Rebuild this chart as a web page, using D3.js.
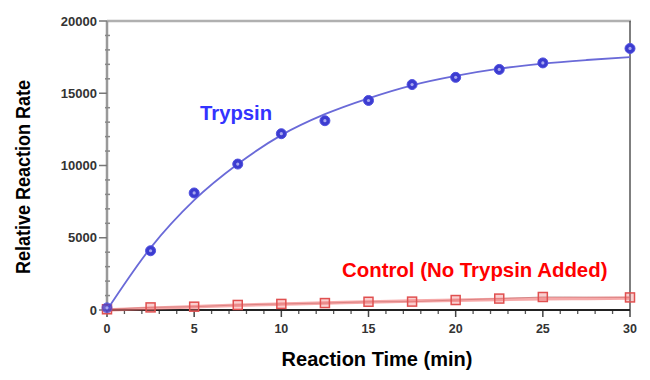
<!DOCTYPE html>
<html>
<head>
<meta charset="utf-8">
<script src="https://cdn.jsdelivr.net/npm/d3@7"></script>
<style>
  body { margin: 0; background: #fff; }
  text { font-family: "Liberation Sans", Arial, sans-serif; font-weight: bold; }
</style>
</head>
<body>
<script>
const width = 650
const height = 380

// measured points
const times = [0, 2.5, 5, 7.5, 10, 12.5, 15, 17.5, 20, 22.5, 25, 30]
const trypsin = [150, 4100, 8100, 10100, 12200, 13100, 14500, 15600, 16100, 16650, 17100, 18100]
const control = [50, 180, 230, 350, 420, 480, 570, 580, 690, 790, 900, 870]

// fitted curves
const fitTimes = [0, 2.5, 5, 7.5, 10, 12.5, 15, 17.5, 20, 22.5, 25, 27.5, 30]
const trypsinFit = [0, 4300, 7600, 10100, 12100, 13550, 14650, 15550, 16200, 16700, 17050, 17300, 17500]
const controlFit = [0, 120, 230, 330, 410, 490, 560, 620, 680, 730, 770, 800, 830]

const xTicks = [0, 5, 10, 15, 20, 25, 30]
const yTicks = [0, 5000, 10000, 15000, 20000]

const x = d3.scaleLinear().domain([0, 30]).range([107, 630])
const y = d3.scaleLinear().domain([0, 20000]).range([310, 21])

const svg = d3.select("body").append("svg")
  .attr("width", width)
  .attr("height", height)

// frame: top (light) and right (dark)
svg.append("line")
  .attr("x1", x(0)).attr("x2", x(30) + 1)
  .attr("y1", y(20000)).attr("y2", y(20000))
  .attr("stroke", "#b0b0b0").attr("stroke-width", 2.5)
svg.append("line")
  .attr("x1", x(30)).attr("x2", x(30))
  .attr("y1", y(20000)).attr("y2", y(0))
  .attr("stroke", "#555").attr("stroke-width", 1.5)

// y axis
const yAxis = svg.append("g").attr("transform", `translate(${x(0)},0)`)
yAxis.append("line")
  .attr("y1", y(20000)).attr("y2", y(0))
  .attr("stroke", "#999").attr("stroke-width", 2.5)
yAxis.selectAll(".minor")
  .data(d3.range(0, 20001, 1000).filter(d => d % 5000 !== 0))
  .enter().append("line")
  .attr("x1", -2).attr("x2", 3)
  .attr("y1", d => y(d)).attr("y2", d => y(d))
  .attr("stroke", "#888").attr("stroke-width", 1.5)
yAxis.selectAll(".major")
  .data(yTicks)
  .enter().append("line")
  .attr("x1", -8).attr("x2", 0)
  .attr("y1", d => y(d)).attr("y2", d => y(d))
  .attr("stroke", "#777").attr("stroke-width", 1.5)
yAxis.selectAll("text")
  .data(yTicks)
  .enter().append("text")
  .attr("x", -10)
  .attr("y", d => y(d) + 4.5)
  .attr("text-anchor", "end")
  .attr("font-size", 13)
  .attr("fill", "#333")
  .text(d => d)

// x axis
const xAxis = svg.append("g").attr("transform", `translate(0,${y(0)})`)
xAxis.selectAll(".minor")
  .data(d3.range(0, 31).filter(d => d % 5 !== 0))
  .enter().append("line")
  .attr("x1", d => x(d)).attr("x2", d => x(d))
  .attr("y1", 0).attr("y2", 4)
  .attr("stroke", "#555").attr("stroke-width", 1.3)
xAxis.selectAll(".major")
  .data(xTicks)
  .enter().append("line")
  .attr("x1", d => x(d)).attr("x2", d => x(d))
  .attr("y1", 0).attr("y2", 7)
  .attr("stroke", "#444").attr("stroke-width", 1.5)
xAxis.append("line")
  .attr("x1", x(0)).attr("x2", x(30))
  .attr("stroke", "#222").attr("stroke-width", 1.8)
xAxis.selectAll("text")
  .data(xTicks)
  .enter().append("text")
  .attr("x", d => x(d))
  .attr("y", 23)
  .attr("text-anchor", "middle")
  .attr("font-size", 12.5)
  .attr("fill", "#333")
  .text(d => d)

// axis titles
svg.append("text")
  .attr("x", 377).attr("y", 366)
  .attr("text-anchor", "middle")
  .attr("font-size", 20)
  .attr("fill", "#000")
  .text("Reaction Time (min)")
svg.append("text")
  .attr("transform", "translate(30,177) rotate(-90)")
  .attr("text-anchor", "middle")
  .attr("font-size", 20)
  .attr("textLength", 194)
  .attr("lengthAdjust", "spacingAndGlyphs")
  .attr("fill", "#000")
  .text("Relative Reaction Rate")

const line = d3.line()
  .x((d, i) => x(fitTimes[i]))
  .y(d => y(d))
  .curve(d3.curveMonotoneX)

// control series
svg.append("path")
  .datum(control)
  .attr("d", d3.line().x((d, i) => x(times[i])).y(d => y(d)))
  .attr("fill", "none")
  .attr("stroke", "#6a2a2a").attr("stroke-width", 1).attr("opacity", 0.45)
svg.append("path")
  .datum(controlFit)
  .attr("d", line)
  .attr("fill", "none")
  .attr("stroke", "#f07070").attr("stroke-width", 3.5).attr("opacity", 0.6)
svg.selectAll(".ctrl")
  .data(control)
  .enter().append("rect")
  .attr("x", (d, i) => x(times[i]) - 4.5)
  .attr("y", d => y(d) - 4.5)
  .attr("width", 9).attr("height", 9)
  .attr("fill", "rgba(240,120,120,0.35)")
  .attr("stroke", "#e05050").attr("stroke-width", 1.5)

// trypsin series
svg.append("path")
  .datum(trypsinFit)
  .attr("d", line)
  .attr("fill", "none")
  .attr("stroke", "#6a6ad8").attr("stroke-width", 1.8)
svg.selectAll(".tryp")
  .data(trypsin)
  .enter().append("circle")
  .attr("cx", (d, i) => x(times[i]))
  .attr("cy", d => y(d))
  .attr("r", 5)
  .attr("fill", "#3c3cd0")
  .attr("stroke", "#5050e0").attr("stroke-width", 1)
  .attr("opacity", (d, i) => i === 0 ? 0.75 : 1)
svg.selectAll(".trypc")
  .data(trypsin)
  .enter().append("circle")
  .attr("cx", (d, i) => x(times[i]))
  .attr("cy", d => y(d))
  .attr("r", 1.6)
  .attr("fill", "#a8a8f0")

// series labels
svg.append("text")
  .attr("x", 200).attr("y", 120)
  .attr("font-size", 20.3)
  .attr("fill", "#3333ff")
  .text("Trypsin")
svg.append("text")
  .attr("x", 342).attr("y", 277)
  .attr("font-size", 20.4)
  .attr("fill", "#ff0000")
  .text("Control (No Trypsin Added)")
</script>
</body>
</html>
